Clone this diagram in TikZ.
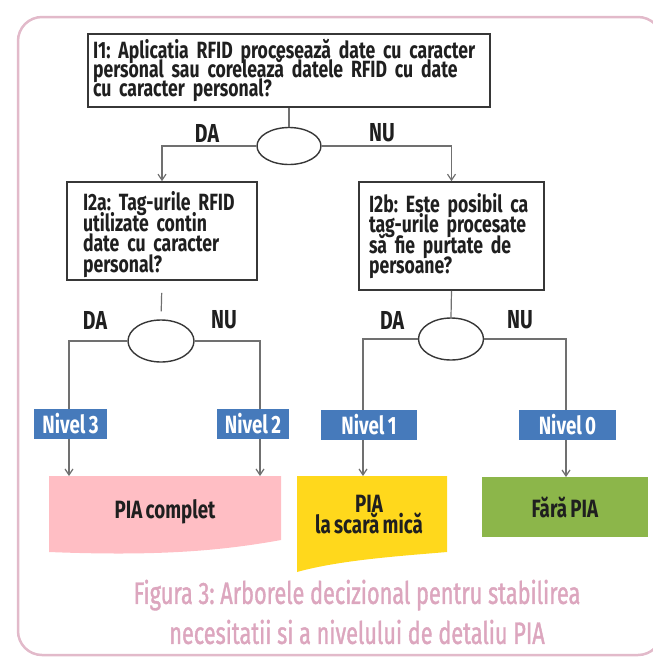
\documentclass[tikz,border=0pt]{standalone}
\usepackage{fontspec}
\setmainfont{Fira Sans}[FakeStretch=0.75, WordSpace=0.75]
\newfontfamily\capfont{Fira Sans}[FakeStretch=0.70, FakeBold=1.2]
\frenchspacing
\usetikzlibrary{arrows.meta,shapes.geometric}
\newcommand\tightlines{\lineskiplimit=-40pt\relax}

\definecolor{framepink}{RGB}{226,186,202}
\definecolor{captionpink}{RGB}{220,166,190}
\definecolor{boxline}{RGB}{55,55,55}
\definecolor{connline}{RGB}{112,112,112}
\definecolor{levelblue}{RGB}{70,122,187}
\definecolor{fullpink}{RGB}{255,190,196}
\definecolor{smallyellow}{RGB}{255,216,28}
\definecolor{nogreen}{RGB}{140,182,74}

\tikzset{
  question/.style={draw=boxline, line width=1.6pt, fill=white, align=left,
    font={\bfseries\fontsize{23.5}{20.5}\selectfont\tightlines},
    text=black!88},
  decision/.style={ellipse, draw=boxline, line width=1.4pt, fill=white,
    inner sep=0pt},
  answer/.style={font={\bfseries\fontsize{26}{26}\selectfont}, text=black!88},
  conn/.style={draw=connline, line width=1.2pt},
  arr/.style={-{Straight Barb[length=6pt,width=8pt]}},
  level/.style={fill=levelblue, text=white, inner sep=0pt, minimum height=30pt,
    font={\bfseries\fontsize{25}{25}\selectfont}},
  result/.style={font={\bfseries\fontsize{25}{21}\selectfont\tightlines},
    text=black!88, align=center},
  caption/.style={font={\capfont\fontsize{31}{40}\selectfont\tightlines},
    text=captionpink, align=center}
}

\begin{document}
\begin{tikzpicture}[x=1pt,y=-1pt]
\useasboundingbox (0,0) rectangle (653,657);

% outer frame
\draw[framepink, line width=2.5pt, rounded corners=24pt] (18,17) rectangle (662,655);

% questions
\node[question, minimum width=402pt, minimum height=73pt, text width=392pt,
      inner xsep=5pt,
      font={\bfseries\fontsize{23.5}{19}\selectfont\tightlines}]
  (i1) at (289,70.5)
  {I1: Aplicatia RFID procesează date cu caracter\\
   personal sau corelează datele RFID cu date\\
   cu caracter personal?};
\node[question, minimum width=190pt, minimum height=98pt, text width=158pt,
      inner xsep=16pt, inner ysep=0pt, text height=26pt]
  (i2a) at (162,231)
  {I2a: Tag-urile RFID\\utilizate contin\\date cu caracter\\personal?};
\node[question, minimum width=185pt, minimum height=108pt, text width=165pt,
      inner xsep=10pt]
  (i2b) at (451.5,236)
  {I2b: Este posibil ca\\tag-urile procesate\\să fie purtate de\\persoane?};

% decision ellipses
\node[decision, minimum width=64pt, minimum height=37pt] (e1) at (289,146) {};
\node[decision, minimum width=66pt, minimum height=42pt] (e2) at (161,341) {};
\node[decision, minimum width=65pt, minimum height=42pt] (e3) at (451,339) {};

% answers
\node[answer] (da1) at (207,133) {DA};
\node[answer] (nu1) at (382,133) {NU};
\node[answer] (da2) at (95,320) {DA};
\node[answer] (nu2) at (224,320) {NU};
\node[answer] (da3) at (392,320) {DA};
\node[answer] (nu3) at (520,320) {NU};

% outcomes
\fill[fullpink] (49,476) -- (281,476) -- (281,540)
  .. controls (215,552) and (150,556) .. (49,552) -- cycle;
\node[result] (full) at (165,512) {PIA complet};
\fill[smallyellow] (297,476) -- (447,476) -- (447,552)
  .. controls (400,556) and (340,560) .. (297,572) -- cycle;
\node[result] (small) at (369,515) {PIA\\la scară mică};
\node[result, fill=nogreen, minimum width=166pt, minimum height=60pt]
  (none) at (565,507) {Fără PIA};

% arrow ends on the outcome boxes
\coordinate (t3) at (69,476);
\coordinate (t2) at (260,476);
\coordinate (t1) at (363,476);
\coordinate (t0) at (566,477);

% connectors
\draw[conn] (i1.south) -- (e1.north);
\draw[conn,arr] (e1.west) -| (i2a.north);
\draw[conn,arr] (e1.east) -| (i2b.north);
\draw[conn, shorten <=12pt, shorten >=8pt] (i2a.south) -- (e2.north);
\draw[conn] (i2b.south) -- (e3.north);
\draw[conn,arr] (e2.west) -| (t3);
\draw[conn,arr] (e2.east) -| (t2);
\draw[conn,arr] (e3.west) -| (t1);
\draw[conn,arr] (e3.east) -| (t0);

% level tags
\node[level, minimum width=73pt] (n3) at (70.5,424) {Nivel 3};
\node[level, minimum width=72pt] (n2) at (253,424) {Nivel 2};
\node[level, minimum width=96pt] (n1) at (369,424.5) {Nivel 1};
\node[level, minimum width=97pt] (n0) at (567.5,424.5) {Nivel 0};

% caption
\node[caption] (cap) at (357,612)
  {Figura 3: Arborele decizional pentru stabilirea\\necesitatii si a nivelului de detaliu PIA};
\end{tikzpicture}
\end{document}
